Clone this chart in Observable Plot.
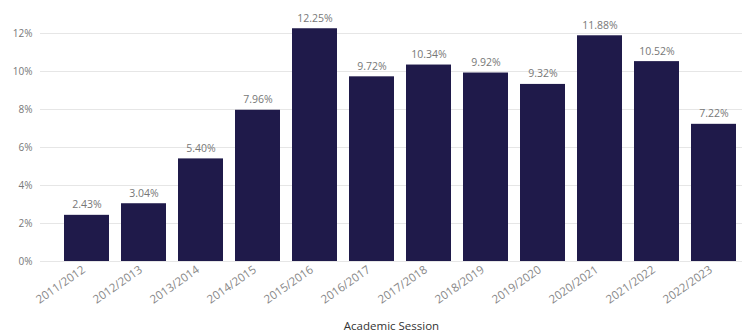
<!DOCTYPE html>
<html>
<head>
<meta charset="utf-8">
<script src="https://cdn.jsdelivr.net/npm/d3@7"></script>
<script src="https://cdn.jsdelivr.net/npm/@observablehq/plot@0.6"></script>
<style>
  html, body { margin: 0; padding: 0; background: #fff; }
  svg { display: block; }
</style>
</head>
<body>
<div id="chart"></div>
<script>
const sessions = ["2011/2012","2012/2013","2013/2014","2014/2015","2015/2016","2016/2017","2017/2018","2018/2019","2019/2020","2020/2021","2021/2022","2022/2023"];
const rates = [2.43, 3.04, 5.40, 7.96, 12.25, 9.72, 10.34, 9.92, 9.32, 11.88, 10.52, 7.22];
const yTicks = [0, 2, 4, 6, 8, 10, 12];

const data = sessions.map((s, i) => ({session: s, rate: rates[i]}));

const chart = Plot.plot({
  width: 742,
  height: 336,
  marginLeft: 40,
  marginRight: 0,
  marginTop: 14,
  marginBottom: 75,
  style: {fontFamily: "'Open Sans', sans-serif", fontSize: "10px", color: "#666", background: "#fff"},
  x: {domain: sessions, padding: 0.21, paddingOuter: 0.24, align: 0.8},
  y: {domain: [0, 13]},
  marks: [
    Plot.gridY(yTicks, {stroke: "#e6e6e6", strokeOpacity: 1}),
    Plot.axisY(yTicks, {tickSize: 0, tickPadding: 8, tickFormat: d => d + "%", label: null, fill: "#777", fontSize: 10}),
    Plot.axisX({tickSize: 0, tickPadding: 7, tickRotate: -35, dx: -3, label: null, fill: "#888", fontSize: 11.5}),
    Plot.axisX({ticks: [], tickSize: 0, label: "Academic Session", labelAnchor: "center", labelArrow: "none", labelOffset: 68, fill: "#333", fontSize: 11.5}),
    Plot.barY(data, {x: "session", y: "rate", fill: "#1f1a4a"}),
    Plot.text(data, {x: "session", y: "rate", text: d => d.rate.toFixed(2) + "%", dy: -7, lineAnchor: "bottom", fill: "#777", fontSize: 10.5})
  ]
});
document.getElementById("chart").append(chart);
</script>
</body>
</html>
